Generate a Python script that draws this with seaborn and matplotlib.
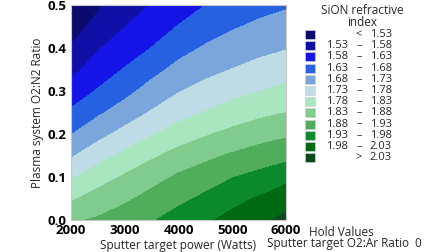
import numpy as np
import matplotlib
matplotlib.use("Agg")
import matplotlib.pyplot as plt
from matplotlib.patches import Rectangle
import seaborn as sns

# values: estimated refractive index per power column,
# listed from ratio 0.0 up to 0.5 in steps of 0.05
power = [2000, 2500, 3000, 3500, 4000, 4500, 5000, 5500, 6000]
ratio = [0.0, 0.05, 0.1, 0.15, 0.2, 0.25, 0.3, 0.35, 0.4, 0.45, 0.5]
index_2000 = [1.873, 1.823, 1.773, 1.724, 1.678, 1.638, 1.601, 1.566, 1.534, 1.506, 1.485]
index_2500 = [1.886, 1.850, 1.808, 1.760, 1.714, 1.672, 1.634, 1.604, 1.576, 1.548, 1.522]
index_3000 = [1.906, 1.871, 1.836, 1.792, 1.746, 1.703, 1.665, 1.633, 1.604, 1.579, 1.554]
index_3500 = [1.926, 1.896, 1.862, 1.822, 1.776, 1.734, 1.699, 1.664, 1.631, 1.607, 1.583]
index_4000 = [1.950, 1.918, 1.887, 1.848, 1.803, 1.762, 1.727, 1.694, 1.663, 1.632, 1.607]
index_4500 = [1.972, 1.940, 1.906, 1.868, 1.825, 1.782, 1.747, 1.715, 1.685, 1.657, 1.630]
index_5000 = [1.995, 1.965, 1.928, 1.886, 1.843, 1.802, 1.765, 1.731, 1.703, 1.675, 1.647]
index_5500 = [2.018, 1.985, 1.944, 1.902, 1.859, 1.818, 1.779, 1.746, 1.716, 1.689, 1.664]
index_6000 = [2.042, 2.012, 1.963, 1.915, 1.872, 1.830, 1.793, 1.759, 1.727, 1.700, 1.674]

levels = [1.53, 1.58, 1.63, 1.68, 1.73, 1.78, 1.83, 1.88, 1.93, 1.98, 2.03]
band_colors = ["#0b0b6e", "#1010a6", "#1414e6", "#2561e0", "#7ba6db", "#bddce6",
               "#a9e6c0", "#80cb8e", "#50ad5c", "#0c892a", "#006a12", "#0b4a1b"]

sns.set_theme(style="white")
plt.rcParams['font.family'] = ['Open Sans', 'DejaVu Sans']

Z = np.column_stack([index_2000, index_2500, index_3000, index_3500, index_4000,
                     index_4500, index_5000, index_5500, index_6000])
pal = sns.color_palette(band_colors)

fig = plt.figure(figsize=(4.48, 2.52), dpi=100)
ax = fig.add_axes([71 / 448, 1 - 220 / 252, 215 / 448, 215 / 252])
ax.contourf(power, ratio, Z, levels=levels, colors=pal, extend="both")

ax.set_xlim(2000, 6000)
ax.set_ylim(0, 0.5)
ax.set_xticks([2000, 3000, 4000, 5000, 6000])
ax.set_yticks([0.0, 0.1, 0.2, 0.3, 0.4, 0.5])
ax.set_yticklabels(["0.0", "0.1", "0.2", "0.3", "0.4", "0.5"])
ax.tick_params(length=0, labelsize=9.5)
ax.tick_params(axis="x", pad=3)
ax.tick_params(axis="y", pad=3)
for t in ax.get_xticklabels() + ax.get_yticklabels():
    t.set_fontweight("bold")
    t.set_color("black")
ax.set_xlabel("Sputter target power (Watts)", fontsize=8.5, labelpad=1)
ax.set_ylabel("Plasma system O2:N2 Ratio", fontsize=8.5, labelpad=3)
for s in ax.spines.values():
    s.set_color("#c8c8c8")
    s.set_linewidth(0.8)

# legend drawn by hand to keep the three aligned columns
fig.text(362 / 448, 1 - 17 / 252, "SiON refractive\nindex", ha="center", va="center",
         fontsize=8.5, linespacing=0.9)
row_h = 11.2
fs = 8
for i, c in enumerate(pal):
    yc = 1 - (34.5 + i * row_h) / 252
    fig.patches.append(Rectangle((305 / 448, yc - 4.5 / 252), 10 / 448, 9 / 252,
                                 transform=fig.transFigure, facecolor=c,
                                 edgecolor="#d0d0d0", linewidth=0.5))
    if i == 0:
        fig.text(359 / 448, yc, "<", ha="center", va="center", fontsize=fs)
        fig.text(392 / 448, yc, f"{levels[0]:.2f}", ha="right", va="center", fontsize=fs)
    elif i == len(pal) - 1:
        fig.text(359 / 448, yc, ">", ha="center", va="center", fontsize=fs)
        fig.text(392 / 448, yc, f"{levels[-1]:.2f}", ha="right", va="center", fontsize=fs)
    else:
        fig.text(348 / 448, yc, f"{levels[i - 1]:.2f}", ha="right", va="center", fontsize=fs)
        fig.text(359 / 448, yc, "–", ha="center", va="center", fontsize=fs)
        fig.text(392 / 448, yc, f"{levels[i]:.2f}", ha="right", va="center", fontsize=fs)

fig.text(309 / 448, 1 - 232 / 252, "Hold Values", ha="left", va="center", fontsize=8.5)
fig.text(267 / 448, 1 - 243.5 / 252, "Sputter target O2:Ar Ratio  0", ha="left",
         va="center", fontsize=8.5)

fig.savefig("out.png", dpi=100)
